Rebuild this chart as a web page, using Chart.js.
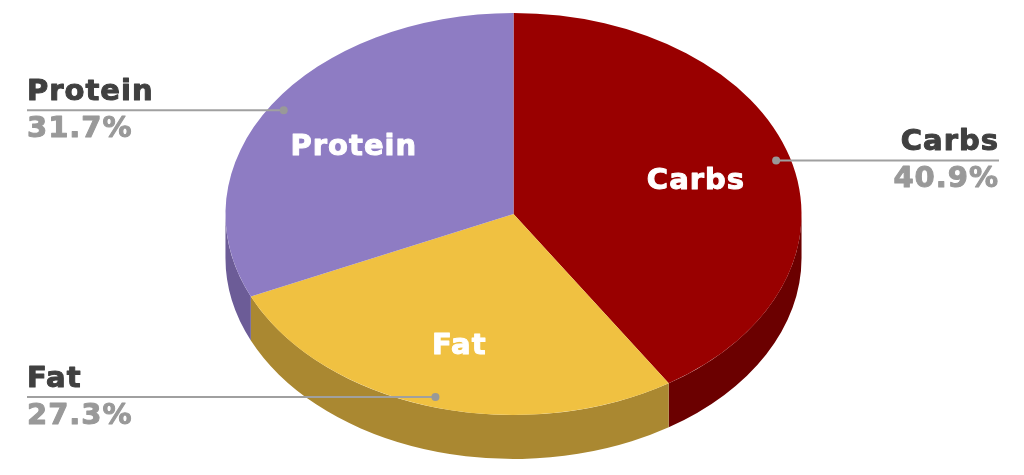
<!DOCTYPE html>
<html>
<head>
<meta charset="utf-8">
<script src="https://cdn.jsdelivr.net/npm/chart.js@4.4.0/dist/chart.umd.min.js"></script>
<style>
  body { margin: 0; background: #fff; }
</style>
</head>
<body>
<canvas id="macroChart" width="1024" height="475"></canvas>
<script>
const labels = ['Carbs', 'Fat', 'Protein'];
const shares = [40.9, 27.3, 31.7];
const topColors = ['#990000', '#F0C141', '#8E7CC3'];
const sideColors = ['#6B0000', '#AA8831', '#6C5C97'];

// look of the fake 3d
const stretch = 1.433;   // x / y ratio of the ellipse
const depth = 44;        // height of the side wall
const font = '"DejaVu Sans", Verdana, sans-serif';

// bold text, a little heavier (Verdana-like)
function heavyText(ctx, text, x, y, color) {
    ctx.fillStyle = color;
    ctx.strokeStyle = color;
    ctx.lineWidth = 1;
    ctx.lineJoin = 'round';
    ctx.fillText(text, x, y);
    ctx.strokeText(text, x, y);
}

function drawSides(ctx, arcs) {
    const { x, y, outerRadius } = arcs[0];
    const rx = outerRadius * stretch, ry = outerRadius;
    arcs.forEach((arc, i) => {
        // only the front half (0..PI on screen) shows a wall
        for (let k = -1; k <= 1; k++) {
            const lo = Math.max(arc.startAngle, 2 * Math.PI * k);
            const hi = Math.min(arc.endAngle, 2 * Math.PI * k + Math.PI);
            if (hi <= lo) continue;
            ctx.beginPath();
            ctx.ellipse(x, y, rx, ry, 0, lo, hi);
            ctx.ellipse(x, y + depth, rx, ry, 0, hi, lo, true);
            ctx.closePath();
            ctx.fillStyle = sideColors[i];
            ctx.fill();
        }
    });
}

function drawLabels(chart, arcs) {
    const ctx = chart.ctx;
    const { x, y, outerRadius } = arcs[0];
    const rx = outerRadius * stretch, ry = outerRadius;
    ctx.font = 'bold 29px ' + font;
    ctx.letterSpacing = '1px';
    arcs.forEach((arc, i) => {
        const mid = (arc.startAngle + arc.endAngle) / 2;
        const cos = Math.cos(mid), sin = Math.sin(mid);

        // name inside the slice
        ctx.textAlign = 'center';
        ctx.textBaseline = 'middle';
        heavyText(ctx, labels[i], x + rx * 0.66 * cos, y + ry * 0.66 * sin + 5, '#fff');

        // leader line out to the side
        const px = x + rx * 0.95 * cos, py = y + ry * 0.95 * sin;
        const onRight = cos > 0;
        const edge = onRight ? chart.width - 25 : 27;
        ctx.strokeStyle = '#a0a0a0';
        ctx.lineWidth = 2;
        ctx.beginPath();
        ctx.moveTo(px, py);
        ctx.lineTo(edge, py);
        ctx.stroke();
        ctx.fillStyle = '#999999';
        ctx.beginPath();
        ctx.arc(px, py, 4, 0, Math.PI * 2);
        ctx.fill();

        ctx.textAlign = onRight ? 'right' : 'left';
        ctx.textBaseline = 'alphabetic';
        heavyText(ctx, labels[i], edge, py - 10, '#404040');
        heavyText(ctx, shares[i].toFixed(1) + '%', edge, py + 27, '#999999');
    });
}

const pie3d = {
    id: 'pie3d',
    beforeDatasetsDraw(chart) {
        const ctx = chart.ctx;
        const arcs = chart.getDatasetMeta(0).data;
        drawSides(ctx, arcs);
        // squash the round pie into an ellipse
        const cx = arcs[0].x;
        ctx.save();
        ctx.translate(cx, 0);
        ctx.scale(stretch, 1);
        ctx.translate(-cx, 0);
    },
    afterDatasetsDraw(chart) {
        chart.ctx.restore();
        drawLabels(chart, chart.getDatasetMeta(0).data);
    }
};

new Chart(document.getElementById('macroChart').getContext('2d'), {
    type: 'pie',
    data: {
        labels: labels,
        datasets: [{
            data: shares,
            backgroundColor: topColors,
            borderWidth: 0,
            clip: false
        }]
    },
    options: {
        responsive: false,
        animation: false,
        events: [],
        layout: { padding: { left: 225, right: 222, top: 13, bottom: 60 } },
        plugins: {
            legend: { display: false },
            tooltip: { enabled: false }
        }
    },
    plugins: [pie3d]
});
</script>
</body>
</html>
